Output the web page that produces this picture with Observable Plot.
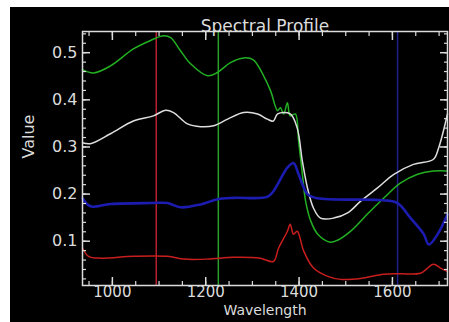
<!DOCTYPE html>
<html>
<head>
<meta charset="utf-8">
<script src="https://cdn.jsdelivr.net/npm/d3@7"></script>
<script src="https://cdn.jsdelivr.net/npm/@observablehq/plot@0.6"></script>
<style>
  html, body { margin: 0; padding: 0; background: #ffffff; }
  #panel { position: absolute; left: 10px; top: 7px; width: 439px; height: 315px; background: #000; overflow: hidden; }
  #panel svg { display: block; }
</style>
</head>
<body>
<div id="panel"></div>
<script>
// ---- data ----
const titleText = "Spectral Profile";
const xLabel = "Wavelength";
const yLabel = "Value";
const xTicks = [1000, 1200, 1400, 1600];
const yTicks = [0.1, 0.2, 0.3, 0.4, 0.5];

const greenWl  = [936, 960, 996, 1045, 1082, 1110, 1125, 1146, 1167, 1204, 1225, 1253, 1281, 1302, 1324, 1339, 1354, 1360, 1367, 1375, 1381, 1392, 1399, 1407, 1414, 1425, 1440, 1467, 1482, 1510, 1546, 1581, 1617, 1654, 1688, 1718];
const greenVal = [0.464, 0.457, 0.472, 0.508, 0.526, 0.536, 0.532, 0.504, 0.477, 0.451, 0.458, 0.479, 0.489, 0.485, 0.451, 0.419, 0.377, 0.383, 0.370, 0.394, 0.366, 0.370, 0.313, 0.243, 0.185, 0.143, 0.115, 0.098, 0.102, 0.121, 0.157, 0.191, 0.223, 0.242, 0.249, 0.249];

const whiteWl  = [936, 953, 996, 1045, 1088, 1114, 1131, 1161, 1189, 1217, 1247, 1281, 1311, 1332, 1345, 1354, 1381, 1396, 1407, 1418, 1431, 1446, 1474, 1504, 1532, 1568, 1603, 1645, 1688, 1699, 1718];
const whiteVal = [0.309, 0.307, 0.328, 0.355, 0.366, 0.378, 0.373, 0.349, 0.343, 0.345, 0.359, 0.373, 0.370, 0.359, 0.355, 0.370, 0.370, 0.340, 0.270, 0.213, 0.170, 0.149, 0.149, 0.160, 0.185, 0.213, 0.242, 0.263, 0.274, 0.298, 0.370];

const blueWl  = [936, 953, 996, 1082, 1118, 1146, 1189, 1225, 1260, 1332, 1345, 1375, 1388, 1399, 1418, 1440, 1581, 1611, 1639, 1667, 1678, 1697, 1718];
const blueVal = [0.191, 0.174, 0.179, 0.181, 0.181, 0.172, 0.178, 0.189, 0.192, 0.194, 0.206, 0.256, 0.266, 0.242, 0.200, 0.191, 0.187, 0.181, 0.149, 0.115, 0.093, 0.115, 0.157];

const redWl  = [936, 949, 975, 1045, 1118, 1153, 1204, 1260, 1317, 1345, 1356, 1375, 1381, 1388, 1396, 1410, 1431, 1460, 1489, 1532, 1581, 1617, 1660, 1688, 1703, 1718];
const redVal = [0.085, 0.068, 0.064, 0.068, 0.068, 0.062, 0.062, 0.066, 0.064, 0.057, 0.085, 0.121, 0.136, 0.115, 0.121, 0.079, 0.043, 0.026, 0.019, 0.021, 0.030, 0.031, 0.032, 0.051, 0.043, 0.036];

const markerWl = [1094, 1227, 1611];
const markerColors = ["#b82030", "#2aa02a", "#20208c"];

const seriesNames = ["green", "white", "blue", "red"];
const seriesColors = ["#22b022", "#dedede", "#1c1cb0", "#c81e1e"];
const seriesWidths = [1.5, 1.5, 2.6, 1.5];

// ---- build ----
const seriesData = [
  [greenWl, greenVal], [whiteWl, whiteVal], [blueWl, blueVal], [redWl, redVal]
].map(([w, v], i) => w.map((x, j) => ({series: seriesNames[i], x, y: v[j]})));

const fg = "#dcdcdc";
const minorX = d3.range(950, 1720, 50);
const minorY = d3.range(0.02, 0.545, 0.02);

const lineMarks = seriesData.map((d, i) =>
  Plot.line(d, {x: "x", y: "y", stroke: seriesColors[i], strokeWidth: seriesWidths[i], curve: "catmull-rom"})
);

const chart = Plot.plot({
  width: 439,
  height: 315,
  marginTop: 24,
  marginLeft: 72,
  marginRight: 2,
  marginBottom: 37,
  style: {background: "#000", color: fg, fontFamily: "DejaVu Sans, sans-serif", fontSize: "16px"},
  x: {domain: [936, 1718]},
  y: {domain: [0.006, 0.545]},
  marks: [
    Plot.ruleX(markerWl, {x: d => d, stroke: (d, i) => markerColors[i], strokeWidth: 1.5}),
    ...lineMarks,
    Plot.frame({stroke: fg, strokeWidth: 1.5}),
    // tick labels
    Plot.axisX(xTicks, {anchor: "bottom", tickSize: 0, tickPadding: 1, fontSize: 15, fill: fg, label: null, tickFormat: d => String(d)}),
    Plot.axisY(yTicks, {anchor: "left", tickSize: 0, tickPadding: 5, fontSize: 16, fill: fg, label: null, tickFormat: d => d.toFixed(1)}),
    // major ticks (inward)
    Plot.axisX(xTicks, {anchor: "bottom", tickSize: -8, text: null, stroke: fg, strokeWidth: 1.5, label: null}),
    Plot.axisX(xTicks, {anchor: "top", tickSize: -8, text: null, stroke: fg, strokeWidth: 1.5, label: null}),
    Plot.axisY(yTicks, {anchor: "left", tickSize: -8, text: null, stroke: fg, strokeWidth: 1.5, label: null}),
    Plot.axisY(yTicks, {anchor: "right", tickSize: -8, text: null, stroke: fg, strokeWidth: 1.5, label: null}),
    // minor ticks
    Plot.axisX(minorX, {anchor: "bottom", tickSize: -4, text: null, stroke: fg, strokeWidth: 1.2, label: null}),
    Plot.axisX(minorX, {anchor: "top", tickSize: -4, text: null, stroke: fg, strokeWidth: 1.2, label: null}),
    Plot.axisY(minorY, {anchor: "left", tickSize: -4, text: null, stroke: fg, strokeWidth: 1.2, label: null}),
    Plot.axisY(minorY, {anchor: "right", tickSize: -4, text: null, stroke: fg, strokeWidth: 1.2, label: null}),
    // titles
    Plot.text([titleText], {frameAnchor: "top", dy: -12, fontSize: 17, fill: fg}),
    Plot.text([xLabel], {frameAnchor: "bottom", dy: 29, fontSize: 14, fill: fg}),
    Plot.text([yLabel], {frameAnchor: "left", dx: -54, rotate: -90, fontSize: 16, fill: fg})
  ]
});
document.getElementById("panel").appendChild(chart);
</script>
</body>
</html>
